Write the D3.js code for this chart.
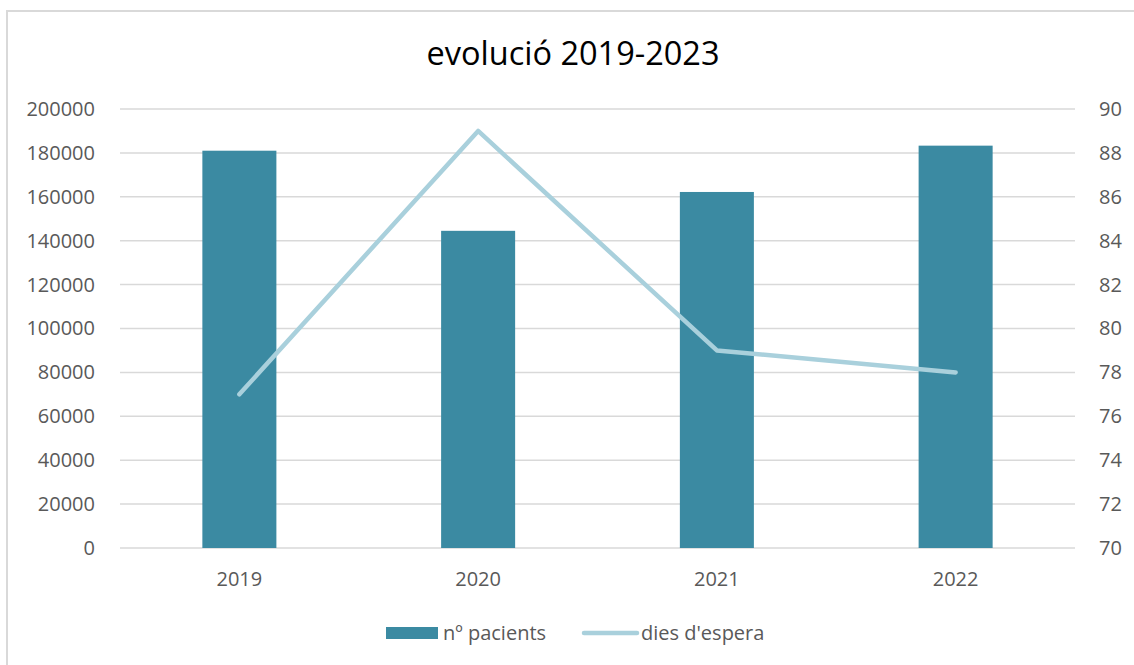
<!DOCTYPE html>
<html><head><meta charset="utf-8">
<script src="https://cdn.jsdelivr.net/npm/d3@7"></script>
<style>html,body{margin:0;padding:0;background:#fff;} svg{display:block;}</style>
</head><body>
<svg id="c" width="1134" height="665"></svg>
<script>
const categories = ["2019","2020","2021","2022"];
const pacients = [181000, 144500, 162200, 183300];
const diesEspera = [77, 89, 79, 78];
const leftTicks = [0,20000,40000,60000,80000,100000,120000,140000,160000,180000,200000];
const rightTicks = [70,72,74,76,78,80,82,84,86,88,90];
const title = "evolució 2019-2023";
const seriesNames = ["nº pacients","dies d'espera"];

const svg = d3.select("#c");
const font = "Open Sans, 'Noto Sans', sans-serif";
const textColor = "#595959";
const barColor = "#3b8aa2";
const lineColor = "#a9d0dc";
const gridColor = "#d9d9d9";
const fs = 20;

svg.append("rect").attr("x",7).attr("y",11).attr("width",1300).attr("height",1000)
  .attr("fill","#fff").attr("stroke",gridColor).attr("stroke-width",2);

const L = 120, R = 1075, T = 109, B = 548;
const x = d3.scaleBand().domain(categories).range([L,R]).paddingInner(0.69).paddingOuter(0.345);
const yL = d3.scaleLinear().domain([0,200000]).range([B,T]);
const yR = d3.scaleLinear().domain([70,90]).range([B,T]);

// gridlines
svg.append("g").selectAll("line").data(leftTicks).join("line")
  .attr("x1",L).attr("x2",R).attr("y1",d=>yL(d)).attr("y2",d=>yL(d))
  .attr("stroke",gridColor).attr("stroke-width",1.5);

// bars
svg.append("g").selectAll("rect").data(categories).join("rect")
  .attr("x",d=>x(d)).attr("width",x.bandwidth())
  .attr("y",(d,i)=>yL(pacients[i])).attr("height",(d,i)=>B-yL(pacients[i]))
  .attr("fill",barColor);

// line
const line = d3.line().x((d,i)=>x(categories[i])+x.bandwidth()/2).y(d=>yR(d));
svg.append("path").datum(diesEspera).attr("d",line).attr("fill","none")
  .attr("stroke",lineColor).attr("stroke-width",4.5).attr("stroke-linejoin","round").attr("stroke-linecap","round");

// left axis
const axL = d3.axisLeft(yL).tickValues(leftTicks).tickSize(0).tickPadding(25).tickFormat(d=>String(d));
const gL = svg.append("g").attr("transform",`translate(${L},0)`).call(axL);
gL.select(".domain").remove();
gL.selectAll("text").attr("font-family",font).attr("font-size",fs).attr("fill",textColor);

const axR = d3.axisRight(yR).tickValues(rightTicks).tickSize(0).tickPadding(24).tickFormat(d=>String(d));
const gR = svg.append("g").attr("transform",`translate(${R},0)`).call(axR);
gR.select(".domain").remove();
gR.selectAll("text").attr("font-family",font).attr("font-size",fs).attr("fill",textColor);

const axB = d3.axisBottom(x).tickSize(0).tickPadding(24);
const gB = svg.append("g").attr("transform",`translate(0,${B})`).call(axB);
gB.select(".domain").remove();
gB.selectAll("text").attr("font-family",font).attr("font-size",fs).attr("fill",textColor);

// title
svg.append("text").attr("x",573).attr("y",65).attr("text-anchor","middle")
  .attr("font-family",font).attr("font-size",32.5).attr("fill","#000").text(title);

// legend
const lg = svg.append("g");
lg.append("rect").attr("x",386).attr("y",627).attr("width",52).attr("height",12).attr("fill",barColor);
lg.append("text").attr("x",443).attr("y",640).attr("font-family",font).attr("font-size",fs).attr("fill",textColor).text(seriesNames[0]);
lg.append("line").attr("x1",584).attr("x2",637).attr("y1",633).attr("y2",633)
  .attr("stroke",lineColor).attr("stroke-width",4.5).attr("stroke-linecap","round");
lg.append("text").attr("x",641).attr("y",640).attr("font-family",font).attr("font-size",fs).attr("fill",textColor).text(seriesNames[1]);
</script>
</body></html>
